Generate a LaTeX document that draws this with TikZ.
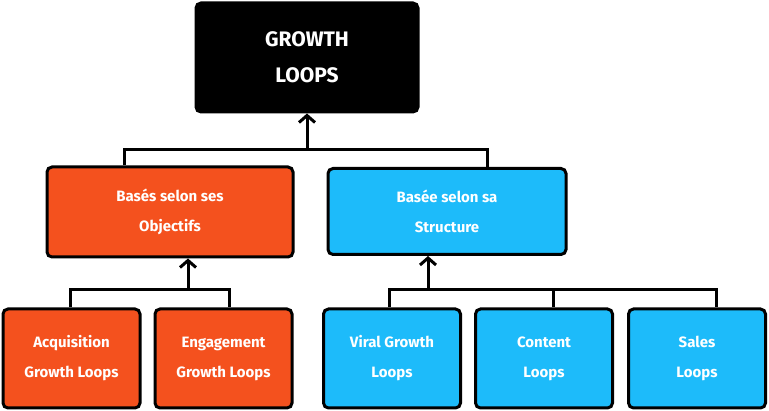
\documentclass[tikz,border=0pt]{standalone}
\usepackage{fontspec}
\setmainfont{Fira Sans}
\usetikzlibrary{arrows.meta,positioning}
\definecolor{orangebox}{RGB}{244,81,30}
\definecolor{cyanbox}{RGB}{29,187,250}
\tikzset{
  basic/.style  = {draw=black, line width=3pt, rounded corners=5pt, text=white,
                   font=\bfseries, align=center, inner sep=0pt},
  root/.style   = {basic, fill=black, minimum width=222pt, minimum height=109pt,
                   font=\bfseries\fontsize{21}{36}\selectfont},
  level 2/.style = {basic, minimum height=90pt, font=\bfseries\fontsize{15}{30}\selectfont},
  level 3/.style = {basic, minimum width=137pt, minimum height=99pt,
                   font=\bfseries\fontsize{15}{30}\selectfont},
  link/.style = {line width=3pt},
}
\begin{document}
\begin{tikzpicture}[x=1pt,y=-1pt,>={Straight Barb[length=7pt,width=16pt,line width=3pt]}]
	  \useasboundingbox (0,0) rectangle (769,411);

	  % root, level 1
	  \node[root] (g) at (307,57.5) {GROWTH\\LOOPS};

	  % the second level
	  \node[level 2, fill=orangebox, minimum width=246pt] (c1) at (170,212) {Basés selon ses\\Objectifs};
	  \node[level 2, fill=cyanbox, minimum width=238pt, minimum height=86pt] (c2) at (447,211.5) {Basée selon sa\\Structure};

	  % the third level
	  \begin{scope}[every node/.style={level 3}]
	  \node[fill=orangebox] (c11) at (71.5,358.5) {Acquisition\\Growth Loops};
	  \node[fill=orangebox] (c12) at (223.5,358.5) {Engagement\\Growth Loops};
	  \node[fill=cyanbox] (c21) at (392,358.5) {Viral Growth\\Loops};
	  \node[fill=cyanbox] (c22) at (544,358.5) {Content\\Loops};
	  \node[fill=cyanbox] (c23) at (697,358.5) {Sales\\Loops};
	  \end{scope}

	  % bars between the levels
	  \coordinate (b0) at (307,150);
	  \coordinate (b1) at (188,290);
	  \coordinate (b2) at (428,290);

	  \draw[link,->] (b0) -- (g.south);
	  \draw[link] (c1.north -| 124,0) |- (b0) -| (c2.north -| 487,0);

	  \draw[link,->] (b1) -- (b1 |- c1.south);
	  \draw[link] (c11.north -| 70,0) |- (b1) -| (c12.north -| 229,0);

	  \draw[link,->] (b2) -- (b2 |- c2.south);
	  \draw[link] (c21.north -| 389,0) |- (b2) -| (c23.north -| 716,0);
	  \draw[link] (c22.north -| 553,0) -- (553,290);
\end{tikzpicture}
\end{document}
